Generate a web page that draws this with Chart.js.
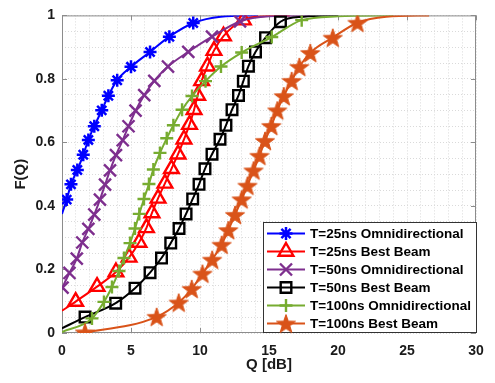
<!DOCTYPE html>
<html>
<head>
<meta charset="utf-8">
<script src="https://cdn.jsdelivr.net/npm/chart.js@4.4.1/dist/chart.umd.min.js"></script>
<style>
  html, body { margin: 0; padding: 0; background: #fff; }
</style>
</head>
<body>
<canvas id="cdfChart" width="495" height="383"></canvas>
<script>
// Series names and colours (legend order)
const seriesLabels = ['T=25ns Omnidirectional', 'T=25ns Best Beam', 'T=50ns Omnidirectional',
                      'T=50ns Best Beam', 'T=100ns Omnidirectional', 'T=100ns Best Beam'];
const seriesColors = ['#0000ff', '#ff0000', '#7e2f8e', '#000000', '#77ac30', '#d95319'];

// Marker positions: Q [dB] and F(Q)
const qOmni25 = [0.34, 0.65, 1.11, 1.54, 1.91, 2.34, 2.88, 3.36, 4.00, 5.00, 6.38, 7.78, 9.51];
const fOmni25 = [0.420, 0.468, 0.513, 0.561, 0.608, 0.651, 0.701, 0.747, 0.796, 0.838, 0.885, 0.933, 0.976];

const qBest25 = [0.99, 2.54, 3.91, 4.86, 5.58, 6.12, 6.52, 6.96, 7.46, 7.93, 8.41, 8.84, 9.24, 9.57, 9.83, 10.12, 10.54, 11.01, 11.70, 13.14];
const fBest25 = [0.099, 0.146, 0.192, 0.238, 0.285, 0.331, 0.378, 0.424, 0.471, 0.517, 0.563, 0.610, 0.656, 0.703, 0.748, 0.794, 0.840, 0.889, 0.935, 0.985];

const qOmni50 = [0.04, 0.54, 1.07, 1.47, 1.91, 2.34, 2.75, 3.12, 3.48, 3.91, 4.40, 4.82, 5.33, 5.96, 6.69, 7.68, 9.15, 10.87, 12.90];
const fOmni50 = [0.143, 0.189, 0.234, 0.285, 0.328, 0.373, 0.420, 0.467, 0.512, 0.560, 0.607, 0.651, 0.700, 0.749, 0.794, 0.839, 0.885, 0.933, 0.981];

const qBest50 = [1.67, 3.89, 5.29, 6.38, 7.21, 7.88, 8.48, 8.99, 9.47, 9.93, 10.36, 10.87, 11.45, 11.88, 12.32, 12.79, 13.14, 13.51, 14.02, 14.75, 15.83];
const fBest50 = [0.050, 0.094, 0.141, 0.190, 0.236, 0.283, 0.329, 0.375, 0.422, 0.468, 0.517, 0.563, 0.610, 0.654, 0.703, 0.748, 0.793, 0.840, 0.885, 0.930, 0.980];

const qOmni100 = [2.17, 3.04, 3.62, 4.13, 4.49, 4.93, 5.29, 5.60, 5.94, 6.30, 6.62, 7.10, 7.59, 8.07, 8.70, 9.42, 10.40, 11.52, 13.02, 15.20, 17.37];
const fOmni100 = [0.046, 0.098, 0.145, 0.195, 0.236, 0.283, 0.329, 0.375, 0.422, 0.469, 0.515, 0.567, 0.613, 0.654, 0.703, 0.746, 0.793, 0.839, 0.883, 0.932, 0.985];

const qBest100 = [1.67, 6.86, 8.46, 9.40, 10.18, 10.88, 11.57, 12.05, 12.54, 13.02, 13.44, 13.88, 14.31, 14.71, 15.17, 15.60, 16.07, 16.64, 17.20, 17.99, 19.62, 21.41];
const fBest100 = [0.002, 0.051, 0.096, 0.139, 0.187, 0.231, 0.278, 0.324, 0.372, 0.421, 0.464, 0.512, 0.558, 0.605, 0.652, 0.701, 0.746, 0.794, 0.838, 0.882, 0.930, 0.977];

// Where each curve starts, and where it flattens out at the top (line only, no marker)
const startQ = [0, 0, 0, 0, 0, 1.3];
const startF = [0.375, 0.07, 0.138, 0.015, 0.003, 0];
const tailQ = [[11.5, 14.2], [14.5, 16.5], [15, 18], [17.5, 20], [20, 24], [23.5, 26.6]];
const tailF = [[0.996, 1], [0.997, 1], [0.997, 1], [0.996, 1], [0.997, 1], [0.996, 1]];

// Axis ticks
const xTicks = [0, 5, 10, 15, 20, 25, 30];
const yTicks = [0, 0.2, 0.4, 0.6, 0.8, 1];

const markerQ = [qOmni25, qBest25, qOmni50, qBest50, qOmni100, qBest100];
const markerF = [fOmni25, fBest25, fOmni50, fBest50, fOmni100, fBest100];

// filled pentagram for the T=100ns best beam curve
function makePentagram(color) {
    const c = document.createElement('canvas');
    c.width = 22; c.height = 22;
    const g = c.getContext('2d');
    g.beginPath();
    for (let k = 0; k < 10; k++) {
        const r = k % 2 === 0 ? 10 : 4;
        const a = -Math.PI / 2 + k * Math.PI / 5;
        const px = 11 + r * Math.cos(a), py = 12 + r * Math.sin(a);
        if (k === 0) g.moveTo(px, py); else g.lineTo(px, py);
    }
    g.closePath();
    g.fillStyle = color;
    g.fill();
    g.strokeStyle = color;
    g.lineWidth = 1;
    g.stroke();
    return c;
}

const markerStyles = [
    { style: 'star', radius: 6.5, width: 2.5 },
    { style: 'triangle', radius: 8.5, width: 2.4 },
    { style: 'crossRot', radius: 8.5, width: 2.4 },
    { style: 'rect', radius: 7.5, width: 2.4 },
    { style: 'cross', radius: 6.5, width: 2.4 },
    { style: makePentagram('#d95319'), radius: 9, width: 1 }
];

const datasets = seriesLabels.map((label, i) => {
    const pts = [{ x: startQ[i], y: startF[i] }];
    markerQ[i].forEach((q, k) => pts.push({ x: q, y: markerF[i][k] }));
    tailQ[i].forEach((q, k) => pts.push({ x: q, y: tailF[i][k] }));
    const last = markerQ[i].length;
    const m = markerStyles[i];
    return {
        label: label,
        data: pts,
        showLine: true,
        borderColor: seriesColors[i],
        borderWidth: 2,
        cubicInterpolationMode: 'monotone',
        pointStyle: m.style,
        pointRadius: c => (c.dataIndex >= 1 && c.dataIndex <= last) ? m.radius : 0,
        pointBorderWidth: m.width,
        pointBorderColor: seriesColors[i],
        pointBackgroundColor: 'rgba(0,0,0,0)',
        order: seriesLabels.length - i
    };
});

// grid every 1 dB and every 0.05
const xGrid = [];
for (let v = 0; v <= 30; v++) xGrid.push(v);
const yGrid = [];
for (let k = 0; k <= 20; k++) yGrid.push(k * 5 / 100);

// box, inward ticks and the legend
const boxAndLegend = {
    id: 'boxAndLegend',
    beforeDatasetsDraw(chart) {
        const { ctx, chartArea: a, scales: { x, y } } = chart;
        ctx.save();
        ctx.strokeStyle = '#8c8c8c';
        ctx.lineWidth = 1;
        ctx.strokeRect(a.left + 0.5, a.top + 0.5, a.right - a.left - 1, a.bottom - a.top - 1);
        ctx.beginPath();
        xTicks.forEach(v => {
            const px = Math.round(x.getPixelForValue(v)) + 0.5;
            ctx.moveTo(px, a.bottom); ctx.lineTo(px, a.bottom - 5);
            ctx.moveTo(px, a.top); ctx.lineTo(px, a.top + 5);
        });
        yTicks.forEach(v => {
            const py = Math.round(y.getPixelForValue(v)) + 0.5;
            ctx.moveTo(a.left, py); ctx.lineTo(a.left + 5, py);
            ctx.moveTo(a.right, py); ctx.lineTo(a.right - 5, py);
        });
        ctx.stroke();
        ctx.restore();
    },
    afterDraw(chart) {
        const ctx = chart.ctx;
        ctx.save();
        ctx.fillStyle = '#fff';
        ctx.fillRect(263, 222, 214, 110);
        ctx.strokeStyle = '#333';
        ctx.lineWidth = 1;
        ctx.strokeRect(263.5, 222.5, 213, 110);
        seriesLabels.forEach((label, i) => {
            const cy = 233.5 + i * 18;
            ctx.strokeStyle = seriesColors[i];
            ctx.lineWidth = 2;
            ctx.beginPath();
            ctx.moveTo(267, cy); ctx.lineTo(305, cy);
            ctx.stroke();
            const m = markerStyles[i];
            ctx.fillStyle = 'rgba(0,0,0,0)';
            ctx.lineWidth = m.width;
            Chart.helpers.drawPoint(ctx, { pointStyle: m.style, radius: m.radius, borderWidth: m.width, rotation: 0 }, 286, cy);
            ctx.fillStyle = '#000';
            ctx.font = "bold 13.5px 'Liberation Sans', Arial, sans-serif";
            ctx.textBaseline = 'middle';
            ctx.textAlign = 'left';
            ctx.fillText(label, 310, cy + 0.5);
        });
        ctx.restore();
    }
};

Chart.defaults.font.family = "'Liberation Sans', Arial, sans-serif";

new Chart(document.getElementById('cdfChart'), {
    type: 'scatter',
    data: { datasets: datasets },
    options: {
        responsive: false,
        animation: false,
        layout: { padding: { top: 10, right: 19, bottom: 0, left: 0 } },
        plugins: { legend: { display: false }, tooltip: { enabled: false } },
        scales: {
            x: {
                type: 'linear',
                min: 0,
                max: 30,
                afterBuildTicks: s => { s.ticks = xGrid.map(v => ({ value: v })); },
                afterFit: s => { s.height = 50; },
                ticks: {
                    autoSkip: false,
                    maxRotation: 0,
                    padding: 10,
                    color: '#1a1a1a',
                    font: { size: 14, weight: 'bold' },
                    callback: v => xTicks.includes(v) ? String(v) : ''
                },
                grid: { color: '#dadada', drawTicks: false },
                border: { display: false, dash: [1, 2] },
                title: {
                    display: true,
                    text: 'Q [dB]',
                    color: '#1a1a1a',
                    font: { size: 15, weight: 'bold' },
                    padding: { top: 0, bottom: 9 }
                }
            },
            y: {
                type: 'linear',
                min: 0,
                max: 1,
                afterBuildTicks: s => { s.ticks = yGrid.map(v => ({ value: v })); },
                afterFit: s => { s.width = 62; },
                ticks: {
                    autoSkip: false,
                    padding: 7,
                    color: '#1a1a1a',
                    font: { size: 14, weight: 'bold' },
                    callback: v => yTicks.includes(v) ? String(v) : ''
                },
                grid: { color: '#dadada', drawTicks: false },
                border: { display: false, dash: [1, 2] },
                title: {
                    display: true,
                    text: 'F(Q)',
                    color: '#1a1a1a',
                    font: { size: 15, weight: 'bold' },
                    padding: { top: 12, bottom: 0 }
                }
            }
        }
    },
    plugins: [boxAndLegend]
});
</script>
</body>
</html>
